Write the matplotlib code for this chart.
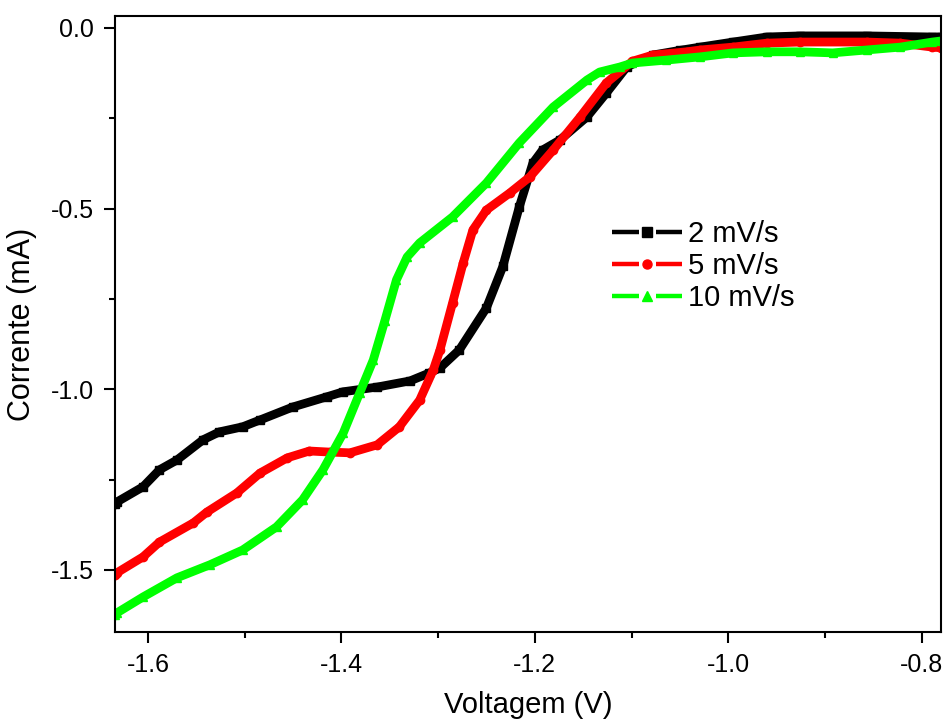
import matplotlib
matplotlib.use("Agg")
import matplotlib.pyplot as plt
from matplotlib.lines import Line2D
from matplotlib.legend_handler import HandlerBase
from matplotlib.ticker import MultipleLocator

plt.rcParams['font.family'] = ['Liberation Sans', 'DejaVu Sans']

# 2 mV/s
v_2 = [-1.634, -1.632, -1.605, -1.588, -1.570, -1.543, -1.526, -1.502, -1.484, -1.450,
       -1.415, -1.398, -1.363, -1.329, -1.309, -1.298, -1.278, -1.250, -1.233, -1.216,
       -1.202, -1.192, -1.174, -1.146, -1.126, -1.105, -1.078, -1.050, -1.029, -0.995,
       -0.960, -0.926, -0.857, -0.789, -0.780]
i_2 = [-1.318, -1.312, -1.270, -1.223, -1.196, -1.140, -1.118, -1.104, -1.085, -1.049,
       -1.021, -1.007, -0.994, -0.977, -0.955, -0.941, -0.891, -0.775, -0.66, -0.495,
       -0.374, -0.338, -0.310, -0.246, -0.180, -0.108, -0.075, -0.062, -0.053, -0.039,
       -0.025, -0.022, -0.022, -0.025, -0.025]

# 5 mV/s
v_5 = [-1.634, -1.632, -1.605, -1.588, -1.553, -1.539, -1.508, -1.484, -1.456, -1.433,
       -1.412, -1.391, -1.363, -1.340, -1.319, -1.305, -1.298, -1.285, -1.274, -1.264,
       -1.250, -1.226, -1.205, -1.181, -1.153, -1.126, -1.099, -1.078, -1.043, -1.029,
       -0.995, -0.960, -0.926, -0.857, -0.822, -0.789, -0.780]
i_5 = [-1.514, -1.508, -1.464, -1.423, -1.370, -1.340, -1.287, -1.232, -1.190, -1.171,
       -1.174, -1.176, -1.154, -1.104, -1.030, -0.947, -0.891, -0.761, -0.650, -0.559,
       -0.504, -0.457, -0.412, -0.338, -0.246, -0.152, -0.092, -0.075, -0.066, -0.061,
       -0.053, -0.042, -0.039, -0.039, -0.042, -0.053, -0.055]

# 10 mV/s
v_10 = [-1.634, -1.632, -1.605, -1.570, -1.536, -1.502, -1.467, -1.440, -1.419, -1.398,
        -1.381, -1.367, -1.355, -1.343, -1.332, -1.319, -1.285, -1.250, -1.216, -1.181,
        -1.146, -1.133, -1.112, -1.099, -1.064, -1.029, -0.995, -0.960, -0.926, -0.892,
        -0.857, -0.822, -0.789, -0.780]
i_10 = [-1.625, -1.619, -1.575, -1.522, -1.486, -1.445, -1.381, -1.306, -1.223, -1.121,
        -1.010, -0.919, -0.81, -0.697, -0.634, -0.595, -0.523, -0.429, -0.318, -0.219,
        -0.144, -0.122, -0.108, -0.097, -0.089, -0.080, -0.069, -0.066, -0.066, -0.069,
        -0.061, -0.053, -0.039, -0.036]

labels = ['2 mV/s', '5 mV/s', '10 mV/s']
colors = ['black', '#ff0000', '#00ff00']
markers = ['s', 'o', '^']


class SplitLineHandler(HandlerBase):
    # Origin-style legend key: segment, marker, segment
    def create_artists(self, legend, orig_handle, xdescent, ydescent, width, height, fontsize, trans):
        c = orig_handle.get_color()
        m = orig_handle.get_marker()
        y = height / 2 - ydescent
        x0 = -xdescent
        mid = x0 + width / 2
        gap = width * 0.125
        left = Line2D([x0, mid - gap], [y, y], color=c, lw=3.2, solid_capstyle='butt')
        right = Line2D([mid + gap, x0 + width], [y, y], color=c, lw=3.2, solid_capstyle='butt')
        mk = Line2D([mid], [y], color=c, ls='none', marker=m, ms=6.5)
        for a in (left, right, mk):
            a.set_transform(trans)
        return [left, right, mk]


fig = plt.figure(figsize=(9.45, 7.19), dpi=100)
ax = fig.add_axes([0.1217, 0.121, 0.8741, 0.8567])

lines = []
for v, i, c, m in zip([v_2, v_5, v_10], [i_2, i_5, i_10], colors, markers):
    ln, = ax.plot(v, i, color=c, lw=6.3, marker=m, ms=6, solid_joinstyle='round')
    lines.append(ln)

ax.set_xlim(-1.634, -0.780)
ax.set_ylim(-1.672, 0.033)
ax.xaxis.set_major_locator(MultipleLocator(0.2))
ax.xaxis.set_minor_locator(MultipleLocator(0.1))
ax.yaxis.set_major_locator(MultipleLocator(0.5))
ax.yaxis.set_minor_locator(MultipleLocator(0.25))
ax.xaxis.set_major_formatter(plt.FuncFormatter(lambda x, p: f"{x:.1f}"))
ax.yaxis.set_major_formatter(plt.FuncFormatter(lambda y, p: f"{y:.1f}"))
ax.tick_params(which='major', direction='out', length=8, width=1.5, labelsize=18, pad=7)
ax.tick_params(which='minor', direction='out', length=4.5, width=1.5)
for s in ax.spines.values():
    s.set_linewidth(1.5)

ax.set_xlabel('Voltagem (V)', fontsize=21, labelpad=10)
ax.set_ylabel('Corrente (mA)', fontsize=22, labelpad=10)

ax.legend(lines, labels, loc='center left', bbox_to_anchor=(0.602, 0.594), frameon=False,
          fontsize=21, handlelength=2.4, handletextpad=0.2, labelspacing=0.15,
          borderpad=0, borderaxespad=0, handler_map={Line2D: SplitLineHandler()})

fig.savefig('out.png', dpi=100)
